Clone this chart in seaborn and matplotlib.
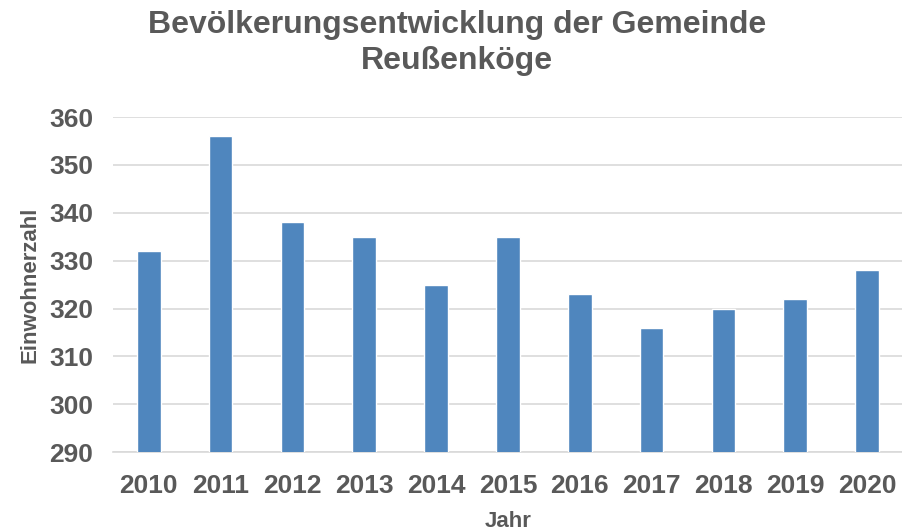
import matplotlib
matplotlib.use("Agg")
import matplotlib.pyplot as plt
import seaborn as sns
import pandas as pd

years = ["2010", "2011", "2012", "2013", "2014", "2015", "2016", "2017", "2018", "2019", "2020"]
einwohner = [332, 356, 338, 335, 325, 335, 323, 316, 320, 322, 328]
yticks = [290, 300, 310, 320, 330, 340, 350, 360]

df = pd.DataFrame({"Jahr": years, "Einwohnerzahl": einwohner})

sns.set_theme(style="white")
plt.rcParams["font.family"] = ["Liberation Sans", "DejaVu Sans"]

text_col = "#595959"
fig = plt.figure(figsize=(9.03, 5.32), dpi=100)
ax = fig.add_axes([0.125, 0.150, 0.875, 0.630])

sns.barplot(data=df, x="Jahr", y="Einwohnerzahl", color="#4F86BE", width=0.33,
            saturation=1, ax=ax, zorder=3)

ax.set_ylim(290, 360)
ax.set_yticks(yticks)
ax.set_yticklabels([str(v) for v in yticks])
ax.grid(axis="y", color="#D9D9D9", linewidth=1.2, zorder=0)
ax.set_axisbelow(True)
for s in ["top", "right", "left"]:
    ax.spines[s].set_visible(False)
ax.spines["bottom"].set_color("#D9D9D9")
ax.spines["bottom"].set_linewidth(1.2)
ax.tick_params(axis="both", length=0, labelsize=19, labelcolor=text_col)
for lbl in ax.get_xticklabels() + ax.get_yticklabels():
    lbl.set_fontweight("bold")
ax.tick_params(axis="y", pad=14)
ax.tick_params(axis="x", pad=16)

ax.set_xlabel("Jahr", fontsize=16, fontweight="bold", color=text_col, labelpad=9)
ax.set_ylabel("Einwohnerzahl", fontsize=16, fontweight="bold", color=text_col, labelpad=6)

fig.text(0.506, 0.982, "Bevölkerungsentwicklung der Gemeinde\nReußenköge", ha="center", va="top",
         fontsize=23, fontweight="bold", color=text_col, linespacing=1.3)

fig.savefig("out.png", dpi=100)
